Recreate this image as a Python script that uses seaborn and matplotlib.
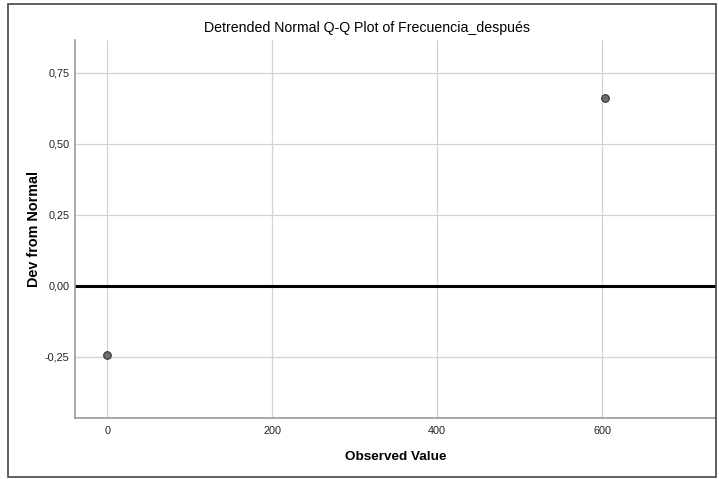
import matplotlib
matplotlib.use("Agg")
import matplotlib.pyplot as plt
import seaborn as sns
import pandas as pd
from matplotlib.ticker import FuncFormatter, FixedLocator
from matplotlib.patches import Rectangle

observed = [0, 604]
deviation = [-0.245, 0.66]
x_ticks = [0, 200, 400, 600]
y_ticks = [-0.25, 0.00, 0.25, 0.50, 0.75]
title = "Detrended Normal Q-Q Plot of Frecuencia_después"
xlabel = "Observed Value"
ylabel = "Dev from Normal"

sns.set_theme(style="white")
plt.rcParams['font.family'] = ['Liberation Sans', 'DejaVu Sans']
plt.rcParams['text.color'] = 'black'
plt.rcParams['axes.labelcolor'] = 'black'

df = pd.DataFrame({"Observed": observed, "Dev": deviation})

fig = plt.figure(figsize=(7.19, 4.79), dpi=100)
W, H = 719, 479
ax = fig.add_axes([75 / W, 1 - 418 / H, (716 - 75) / W, (418 - 40) / H])

ax.set_xlim(-39, 738)
ax.set_ylim(-0.466, 0.866)
ax.xaxis.set_major_locator(FixedLocator(x_ticks))
ax.yaxis.set_major_locator(FixedLocator(y_ticks))
ax.yaxis.set_major_formatter(FuncFormatter(lambda v, p: f"{v:.2f}".replace(".", ",")))
ax.grid(True, color="#d4d4d4", linewidth=0.9)
ax.set_axisbelow(True)

ax.axhline(0, color="black", linewidth=2.2, zorder=2)
sns.scatterplot(data=df, x="Observed", y="Dev", ax=ax, s=30, color="#6e6e6e",
                edgecolor="#333333", linewidth=0.8, zorder=3)

for side in ["top", "right"]:
    ax.spines[side].set_visible(False)
for side in ["left", "bottom"]:
    ax.spines[side].set_color("#999999")
    ax.spines[side].set_linewidth(1.2)

ax.tick_params(axis="both", labelsize=7.8, colors="#222222", length=0)
ax.tick_params(axis="y", pad=4)
ax.tick_params(axis="x", pad=6)
ax.set_xlabel(xlabel, fontsize=9.7, fontweight="bold")
ax.xaxis.set_label_coords(0.5, -(451 - 418) / (418 - 40))
ax.set_ylabel(ylabel, fontsize=10.4, fontweight="bold")
ax.yaxis.set_label_coords((41 - 75) / (716 - 75), 0.5)

fig.text(367 / W, 1 - 28 / H, title, ha="center", va="center", fontsize=10.2,
         color="black")

fig.patches.append(Rectangle((8 / W, 1 - 477 / H), (716 - 8) / W, (477 - 4) / H,
                             transform=fig.transFigure, fill=False,
                             edgecolor="#444444", linewidth=1.2))

fig.savefig("out.png", dpi=100)
